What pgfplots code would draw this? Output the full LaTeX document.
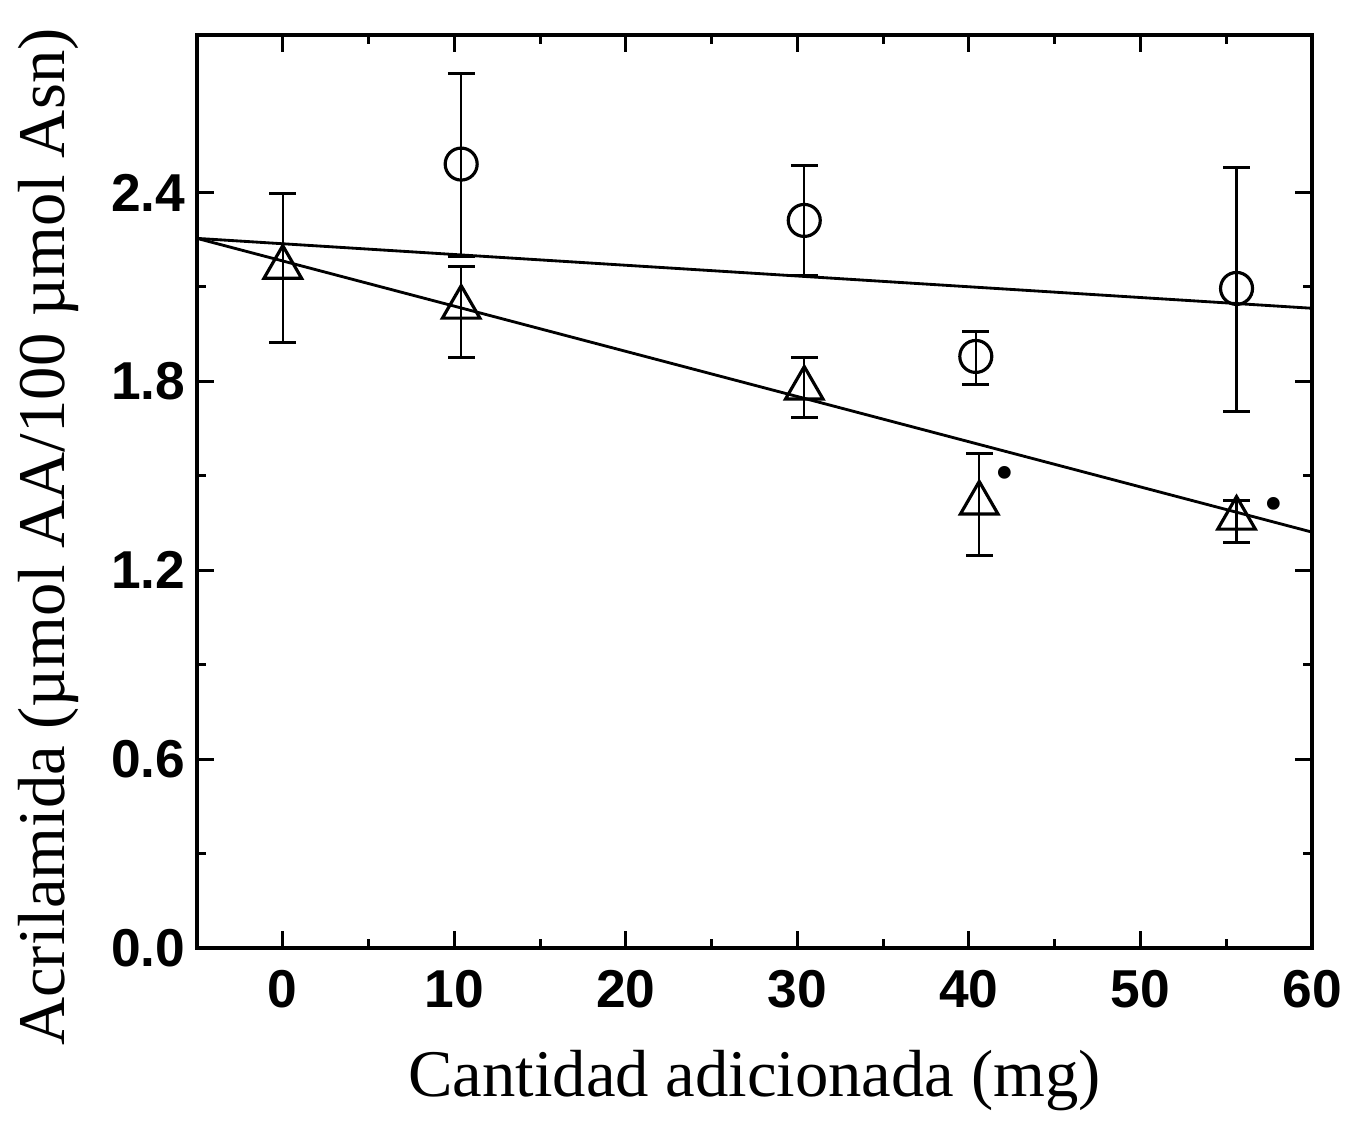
\documentclass[border=0pt]{standalone}
\usepackage{fontspec}
\setmainfont{Liberation Serif}
\newfontfamily\arialb{Liberation Sans}
\usepackage{pgfplots}
\usepackage{pgfplotstable}
\pgfplotsset{compat=1.18}
\pgfplotstableread{
x     y      ep     em
10.4  2.490  0.288  0.293
30.4  2.311  0.175  0.174
40.4  1.879  0.080  0.089
55.6  2.095  0.384  0.390
}\circdata
\pgfplotstableread{
x     y      ep     em
0     2.162  0.235  0.238
10.4  2.035  0.130  0.159
30.4  1.778  0.098  0.092
40.6  1.413  0.158  0.165
55.6  1.365  0.057  0.076
}\tridata
\begin{document}
\begin{tikzpicture}
\begin{axis}[
  name=ax,
  scale only axis,
  width=334.5pt, height=273.9pt,
  xmin=-5, xmax=60, ymin=0, ymax=2.9,
  xtick={0,10,...,60}, minor x tick num=1,
  ytick={0,0.6,1.2,1.8,2.4}, minor y tick num=1,
  tick align=inside,
  major tick length=5pt, minor tick length=2.7pt,
  axis line style={line width=1pt},
  every tick/.style={line width=0.9pt, black},
  tick label style={font=\arialb\bfseries\fontsize{16}{16}\selectfont},
  /pgf/number format/assume math mode=true,
  yticklabel style={/pgf/number format/.cd, fixed, fixed zerofill, precision=1},
  xticklabel style={yshift=-3pt},
  xlabel={Cantidad adicionada (mg)},
  ylabel={Acrilamida (µmol AA/100 µmol Asn)},
  label style={font=\fontsize{20}{20}\selectfont},
  xlabel style={yshift=-6pt},
  ylabel style={at={(ticklabel cs:0.45)}, yshift=3pt},
  clip=false,
]
% fitted lines
\addplot[black, line width=0.85pt] coordinates {(-5,2.254) (60,2.032)};
\addplot[black, line width=0.85pt] coordinates {(-5,2.254) (60,1.321)};
% error bars (drawn first)
\addplot[black, only marks, mark=*, mark size=0pt,
  error bars/.cd, y dir=both, y explicit,
  error bar style={line width=0.7pt},
  error mark options={rotate=90, mark size=4pt, line width=0.9pt}]
  table[x=x, y=y, y error plus=ep, y error minus=em] {\circdata};
\addplot[black, only marks, mark=*, mark size=0pt,
  error bars/.cd, y dir=both, y explicit,
  error bar style={line width=0.7pt},
  error mark options={rotate=90, mark size=4pt, line width=0.9pt}]
  table[x=x, y=y, y error plus=ep, y error minus=em] {\tridata};
% markers on top
\addplot[black, only marks, mark=o, mark size=4.8pt,
  mark options={line width=0.95pt, fill=white}]
  table[x=x, y=y] {\circdata};
\addplot[black, only marks, mark=triangle, mark size=6.5pt,
  mark options={line width=0.95pt, fill=white}]
  table[x=x, y=y] {\tridata};
\node[font=\fontsize{16}{16}\selectfont, inner sep=0pt] at (axis cs:42.1,1.49) {•};
\node[font=\fontsize{16}{16}\selectfont, inner sep=0pt] at (axis cs:57.8,1.392) {•};
\end{axis}
\pgfresetboundingbox
\path[use as bounding box] ([xshift=-59.1pt, yshift=-52.2pt]ax.south west) rectangle ([xshift=9.9pt, yshift=10.5pt]ax.north east);
\end{tikzpicture}
\end{document}
